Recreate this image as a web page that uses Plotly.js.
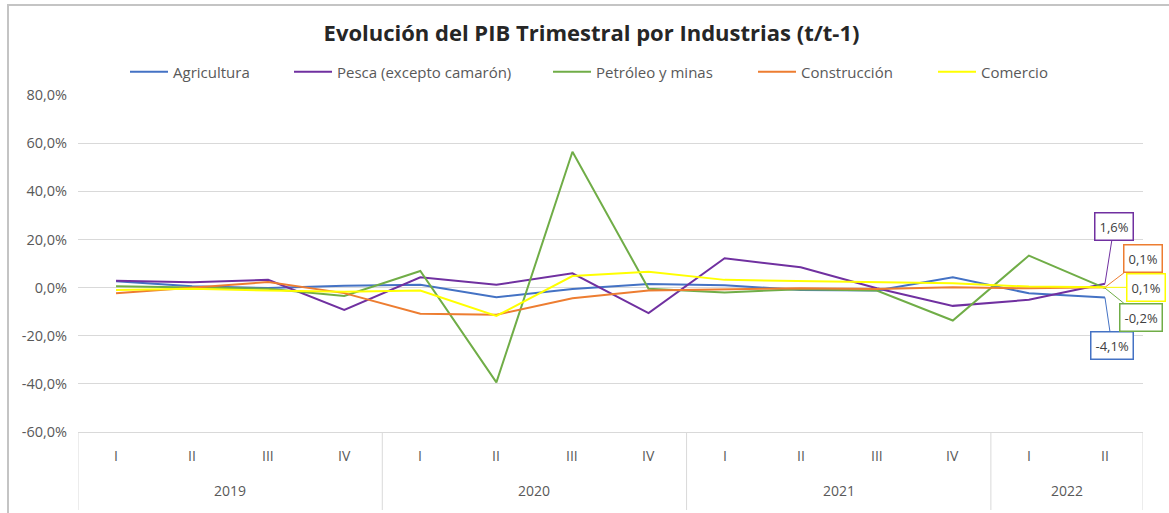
<!DOCTYPE html>
<html>
<head>
<meta charset="utf-8">
<script src="https://cdn.plot.ly/plotly-3.0.1.min.js"></script>
<style>
  html, body { margin: 0; padding: 0; background: #ffffff; overflow: hidden; }
  #chart { position: absolute; left: 0; top: 0; width: 1169px; height: 513px; }
  #frame { position: absolute; left: 7px; top: 4px; width: 1170px; height: 520px;
           border-top: 2px solid #c4c4c4; border-left: 2px solid #c4c4c4; pointer-events: none; }
</style>
</head>
<body>
<div id="chart"></div>
<div id="frame"></div>
<script>
// ---- data (percent, t/t-1) ----
const years    = ["2019","2019","2019","2019","2020","2020","2020","2020","2021","2021","2021","2021","2022","2022"];
const quarters = ["I","II","III","IV","I","II","III","IV","I","II","III","IV","I","II"];

const seriesNames = ["Agricultura", "Pesca (excepto camarón)", "Petróleo y minas", "Construcción", "Comercio"];
const agricultura  = [2.6, 0.5, -0.2, 0.8, 1.2, -4.0, -0.6, 1.5, 1.0, -1.0, -1.2, 4.3, -2.4, -4.1];
const pesca        = [2.8, 2.2, 3.2, -9.3, 4.3, 1.2, 5.9, -10.6, 12.2, 8.4, -0.3, -7.6, -5.1, 1.6];
const petroleo     = [0.5, 0.0, -0.5, -3.5, 6.9, -39.4, 56.4, -0.5, -2.0, -0.7, -1.2, -13.7, 13.3, -0.2];
const construccion = [-2.4, -0.2, 2.3, -2.3, -10.9, -11.3, -4.4, -1.2, -0.7, -0.3, -0.6, 0.1, -0.3, 0.1];
const comercio     = [-1.0, -0.5, -1.2, -1.7, -1.2, -11.8, 4.8, 6.6, 3.2, 2.8, 2.1, 1.8, 0.4, 0.1];

const yTickVals = [-60, -40, -20, 0, 20, 40, 60, 80];

// ---- styles ----
const colors = ["#4472C4", "#7030A0", "#70AD47", "#ED7D31", "#FFFF00"];
const allSeries = [agricultura, pesca, petroleo, construccion, comercio];
// label offsets (pixels) for the last-point data labels
const labelOffsets = [[7, 48], [9, -57], [36, 29], [38, -29], [41, 0]];
// legend entry left positions (pixels from page left)
const legendLeftPx = [135, 299, 558, 763, 943];
const FONT = "'Open Sans', 'Noto Sans', 'Liberation Sans', sans-serif";
const AXIS_TEXT = "#595959";

const fmt = v => v.toFixed(1).replace(".", ",") + "%";
const lastIdx = quarters.length - 1;
const PLOT_L = 78, PLOT_T = 95, PLOT_B = 81, H = 513;
const PLOT_W = 1169 - 78 - 26, PLOT_H = H - PLOT_T - PLOT_B;
const pyToPaper = py => (H - PLOT_B - py) / PLOT_H;

const legendIds = ["legend", "legend2", "legend3", "legend4", "legend5"];

const traces = allSeries.map((vals, i) => ({
  type: "scatter",
  mode: "lines",
  name: seriesNames[i],
  legend: legendIds[i],
  x: [years, quarters],
  y: vals,
  line: { color: colors[i], width: 2 },
  hoverinfo: "skip"
}));

// data labels on the last point
const annotations = allSeries.map((vals, i) => ({
  x: lastIdx,
  y: vals[lastIdx],
  xref: "x", yref: "y",
  text: fmt(vals[lastIdx]),
  showarrow: true,
  arrowhead: 0,
  arrowwidth: 1,
  arrowcolor: colors[i],
  ax: labelOffsets[i][0],
  ay: labelOffsets[i][1],
  font: { family: FONT, size: 13, color: "#404040" },
  bgcolor: "#ffffff",
  bordercolor: colors[i],
  borderwidth: 1.5,
  borderpad: 4
}));

// quarter labels (inner category level)
quarters.forEach((q, i) => {
  annotations.push({
    x: i, y: pyToPaper(455), xref: "x", yref: "paper",
    text: q, showarrow: false, xanchor: "center", yanchor: "middle",
    font: { family: FONT, size: 14, color: AXIS_TEXT }
  });
});

// year labels (outer level) and dividers between years
const shapes = [];
const groups = [];
years.forEach((y, i) => {
  if (!groups.length || groups[groups.length - 1].year !== y) groups.push({ year: y, start: i, end: i });
  else groups[groups.length - 1].end = i;
});
groups.forEach(g => {
  annotations.push({
    x: (g.start + g.end) / 2, y: pyToPaper(490), xref: "x", yref: "paper",
    text: g.year, showarrow: false, xanchor: "center", yanchor: "middle",
    font: { family: FONT, size: 14, color: AXIS_TEXT }
  });
  shapes.push({
    type: "line", xref: "x", yref: "paper",
    x0: g.start - 0.5, x1: g.start - 0.5, y0: 0, y1: pyToPaper(510),
    line: { color: "#d9d9d9", width: 1 }
  });
});
shapes.push({
  type: "line", xref: "x", yref: "paper",
  x0: lastIdx + 0.5, x1: lastIdx + 0.5, y0: 0, y1: pyToPaper(510),
  line: { color: "#d9d9d9", width: 1 }
});

const layout = {
  width: 1169,
  height: H,
  paper_bgcolor: "#ffffff",
  plot_bgcolor: "#ffffff",
  separators: ",.",
  margin: { l: PLOT_L, r: 26, t: PLOT_T, b: PLOT_B },
  title: {
    text: "<b>Evolución del PIB Trimestral por Industrias (t/t-1)</b>",
    font: { family: FONT, size: 22, color: "#262626" },
    x: 0.506, xanchor: "center", xref: "container",
    y: 1 - 33 / H, yanchor: "middle", yref: "container"
  },
  showlegend: true,
  xaxis: {
    type: "multicategory",
    range: [-0.5, lastIdx + 0.5],
    showgrid: false,
    showline: true,
    linecolor: "#d9d9d9",
    linewidth: 1,
    ticks: "",
    showticklabels: false,
    showdividers: false,
    zeroline: false,
    fixedrange: true
  },
  yaxis: {
    range: [-60, 80],
    tickmode: "array",
    tickvals: yTickVals,
    ticktext: yTickVals.map(fmt),
    showgrid: true,
    gridcolor: "#d9d9d9",
    gridwidth: 1,
    zeroline: false,
    showline: false,
    ticks: "",
    ticklabelstandoff: 10,
    tickfont: { family: FONT, size: 14.5, color: AXIS_TEXT },
    fixedrange: true
  },
  annotations: annotations,
  shapes: shapes
};

legendIds.forEach((id, i) => {
  layout[id] = {
    orientation: "h",
    x: (legendLeftPx[i] - 10 - PLOT_L) / PLOT_W,
    xanchor: "left",
    y: 1.068, yanchor: "middle",
    itemwidth: 38,
    font: { family: FONT, size: 15, color: AXIS_TEXT },
    bgcolor: "rgba(0,0,0,0)"
  };
});

Plotly.newPlot("chart", traces, layout, { staticPlot: true, displayModeBar: false });
</script>
</body>
</html>
